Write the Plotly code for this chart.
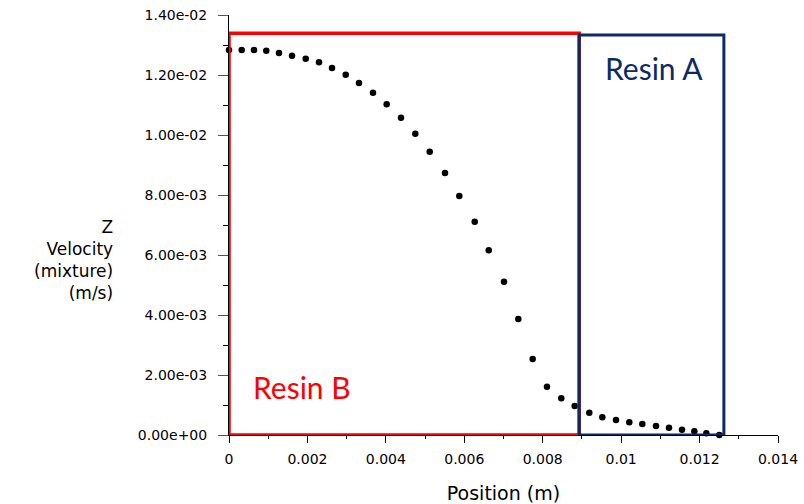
import plotly.graph_objects as go

# Data
position_m = [0.0, 0.000324, 0.000638, 0.000951, 0.001275, 0.001607, 0.001956, 0.002295,
              0.002627, 0.002976, 0.003315, 0.003672, 0.004021, 0.004386, 0.004751, 0.005118,
              0.005508, 0.005873, 0.006266, 0.006623, 0.007013, 0.007378, 0.007745, 0.008109,
              0.008474, 0.008816, 0.009188, 0.009520, 0.009869, 0.010208, 0.010540, 0.010889,
              0.011220, 0.011552, 0.011866, 0.012172, 0.012503]
z_velocity = [0.012833, 0.012836, 0.012833, 0.012810, 0.012733, 0.012643, 0.012543, 0.012423,
              0.012233, 0.012010, 0.011733, 0.011410, 0.011023, 0.010577, 0.010043, 0.009443,
              0.008733, 0.007967, 0.007110, 0.006157, 0.005110, 0.003867, 0.002533, 0.001610,
              0.001223, 0.000967, 0.000743, 0.000590, 0.000500, 0.000423, 0.000367, 0.000300,
              0.000243, 0.000177, 0.000123, 0.000057, 0.0]

y_tickvals = [0.0, 0.002, 0.004, 0.006, 0.008, 0.010, 0.012, 0.014]
y_ticktext = ["0.00e+00", "2.00e-03", "4.00e-03", "6.00e-03", "8.00e-03",
              "1.00e-02", "1.20e-02", "1.40e-02"]
x_tickvals = [0, 0.002, 0.004, 0.006, 0.008, 0.010, 0.012, 0.014]
x_ticktext = ["0", "0.002", "0.004", "0.006", "0.008", "0.01", "0.012", "0.014"]

# Region boxes (x extent, top)
resin_b_x = [0.0, 0.00893]
resin_b_top = 0.01339
resin_a_x = [0.00893, 0.01262]
resin_a_top = 0.01333
resin_b_label_pos = [0.00186, 0.0016]
resin_a_label_pos = [0.01085, 0.01225]

RED = "#ff0000"
NAVY = "#0c2a66"
FONT = "DejaVu Sans"

fig = go.Figure()

fig.add_shape(type="rect", xref="x", yref="y",
              x0=resin_b_x[0], x1=resin_b_x[1], y0=0, y1=resin_b_top,
              line=dict(color=RED, width=3.5), layer="above")
fig.add_shape(type="rect", xref="x", yref="y",
              x0=resin_a_x[0], x1=resin_a_x[1], y0=0, y1=resin_a_top,
              line=dict(color=NAVY, width=3), layer="above")

fig.add_trace(go.Scatter(
    x=position_m, y=z_velocity, mode="markers",
    marker=dict(color="black", size=6.5),
    showlegend=False, hoverinfo="x+y", cliponaxis=False))

fig.add_annotation(x=resin_b_label_pos[0], y=resin_b_label_pos[1], xref="x", yref="y",
                   text="Resin B", showarrow=False,
                   font=dict(family="Lato", size=30, color=RED))
fig.add_annotation(x=resin_a_label_pos[0], y=resin_a_label_pos[1], xref="x", yref="y",
                   text="Resin A", showarrow=False,
                   font=dict(family="Lato", size=30, color=NAVY))

fig.add_annotation(x=-0.2077, y=0.4167, xref="paper", yref="paper",
                   xanchor="right", yanchor="middle", align="right",
                   text="Z<br>Velocity<br>(mixture)<br>(m/s)", showarrow=False,
                   font=dict(family=FONT, size=17, color="black"))

fig.update_xaxes(
    range=[0, 0.014], showgrid=False, zeroline=False, automargin=False,
    showline=True, linecolor="black", linewidth=1,
    ticks="outside", ticklen=7, tickcolor="black", tickwidth=1,
    tickvals=x_tickvals, ticktext=x_ticktext,
    minor=dict(ticks="outside", ticklen=3, tickcolor="black", dtick=0.001, tick0=0, showgrid=False),
    tickfont=dict(family=FONT, size=14, color="black"),
    ticklabelstandoff=4,
    title=dict(text="Position (m)", standoff=20,
               font=dict(family=FONT, size=19, color="black")),
)
fig.update_yaxes(
    range=[0, 0.014], showgrid=False, zeroline=False, automargin=False,
    showline=True, linecolor="black", linewidth=1,
    ticks="outside", ticklen=10, tickcolor="#555555", tickwidth=1,
    tickvals=y_tickvals, ticktext=y_ticktext,
    minor=dict(ticks="outside", ticklen=5, tickcolor="black", dtick=0.001, tick0=0, showgrid=False),
    tickfont=dict(family=FONT, size=14, color="black"),
    ticklabelstandoff=8,
)

fig.update_layout(
    width=804, height=504,
    margin=dict(l=229, r=26, t=15, b=69),
    plot_bgcolor="white", paper_bgcolor="white",
)

fig.write_html("out.html")
